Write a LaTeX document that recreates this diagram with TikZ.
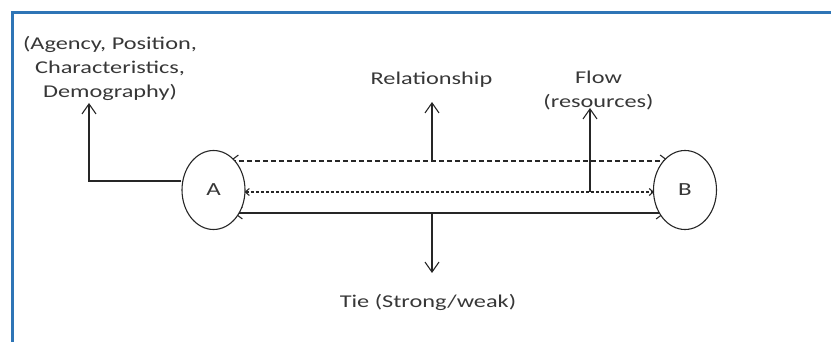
\documentclass[tikz,border=0pt]{standalone}
\usepackage{fontspec}
\setmainfont[FakeStretch=1.35]{Carlito}
\usetikzlibrary{arrows.meta,shapes.geometric}
\definecolor{frameblue}{RGB}{46,117,182}
\definecolor{ink}{RGB}{38,38,38}
\definecolor{txt}{RGB}{55,55,55}
\pgfdeclarelayer{background}
\pgfsetlayers{background,main}

\begin{document}
\begin{tikzpicture}[x=1pt,y=-1pt,
  lbl/.style={font=\fontsize{18}{24}\selectfont, text=txt, inner sep=0pt},
  actor/.style={ellipse, draw=ink, fill=white, line width=1.1pt,
    minimum width=63pt, minimum height=79pt, inner sep=0pt,
    font=\fontsize{18.5}{24}\selectfont, text=txt},
  link/.style={draw=ink, line width=1.1pt},
  uptip/.style={-{Straight Barb[length=10pt,width=14pt]}},
  bothtips/.style={{Straight Barb[length=8pt,width=12pt]}-{Straight Barb[length=8pt,width=12pt]}},
  smalltips/.style={{Straight Barb[length=4pt,width=7pt]}-{Straight Barb[length=4pt,width=7pt]}}
]
\useasboundingbox (0,0) rectangle (831,342);

% frame (open on the right and bottom)
\draw[frameblue, line width=2.6pt] (831,12.5) -- (12.5,12.5) -- (12.5,342);

% the two actors
\node[actor] (A) at (213.5,190) {A};
\node[actor] (B) at (685,190) {B};

% labels (base anchor of a multi-line node sits on its last line)
\node[lbl, anchor=base, align=center] (attr) at (110,98)
  {(Agency, Position,\\Characteristics,\\Demography)};
\node[lbl, anchor=base] (rel) at (431.5,85) {Relationship};
\node[lbl, anchor=base, align=center] (flow) at (598.5,108) {Flow\\(resources)};
\node[lbl, anchor=base] (tie) at (428,307) {Tie (Strong/weak)};

% free ends of the label arrows
\coordinate (attrtip) at (89,103);
\coordinate (relfoot) at (432,161);
\coordinate (reltip)  at (432,102);
\coordinate (flowfoot) at (590,192);
\coordinate (flowtip)  at (590,108);
\coordinate (tiefoot) at (432,213);
\coordinate (tietip)  at (432,273);

\begin{pgfonlayer}{background}
  % relationship (dashed), flow (fine dashed), tie (solid)
  \draw[link, bothtips, dash pattern=on 5pt off 3pt, shorten <=16pt, shorten >=16pt]
    ([yshift=29pt]A.center) -- ([yshift=29pt]B.center);
  \draw[link, smalltips, dash pattern=on 3pt off 2pt, shorten <=31pt, shorten >=31pt]
    ([yshift=-2pt]A.center) -- ([yshift=-2pt]B.center);
  \draw[link, bothtips, shorten <=20pt, shorten >=20pt]
    ([yshift=-23pt]A.center) -- ([yshift=-23pt]B.center);
\end{pgfonlayer}

% arrows to the labels
\draw[link, uptip] ([yshift=9pt]A.west) -| (attrtip);
\draw[link, uptip] (relfoot) -- (reltip);
\draw[link, uptip] (flowfoot) -- (flowtip);
\draw[link, uptip] (tiefoot) -- (tietip);
\end{tikzpicture}
\end{document}
